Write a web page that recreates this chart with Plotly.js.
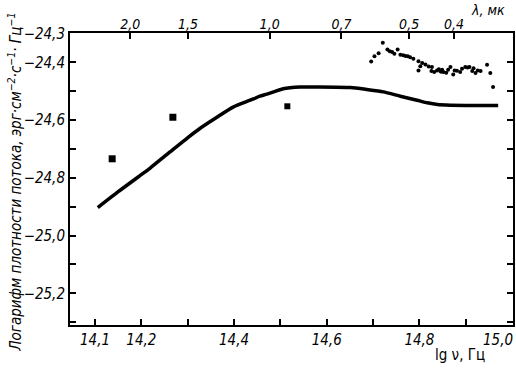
<!DOCTYPE html>
<html>
<head>
<meta charset="utf-8">
<script src="https://cdn.plot.ly/plotly-3.0.1.min.js"></script>
<style>html,body{margin:0;padding:0;background:#fff;}#chart{width:516px;height:368px;}</style>
</head>
<body>
<div id="chart"></div>
<script>
// Model curve (lg nu, log flux)
const curveX = [14.106, 14.150, 14.193, 14.219, 14.262, 14.299, 14.327, 14.363, 14.398, 14.435, 14.456, 14.471, 14.506, 14.543, 14.579, 14.651, 14.687, 14.722, 14.759, 14.795, 14.817, 14.839, 14.867, 14.970];
const curveY = [-24.903, -24.848, -24.797, -24.766, -24.710, -24.662, -24.628, -24.590, -24.555, -24.531, -24.517, -24.510, -24.491, -24.485, -24.485, -24.487, -24.494, -24.502, -24.517, -24.531, -24.540, -24.546, -24.548, -24.549];
// Observed points (dense set)
const dotsX = [14.696, 14.703, 14.712, 14.721, 14.731, 14.736, 14.741, 14.746, 14.753, 14.759, 14.765, 14.770, 14.775, 14.780, 14.787, 14.798, 14.806, 14.798, 14.802, 14.813, 14.820, 14.827, 14.826, 14.832, 14.838, 14.845, 14.849, 14.852, 14.858, 14.862, 14.867, 14.873, 14.876, 14.881, 14.888, 14.892, 14.899, 14.904, 14.908, 14.914, 14.917, 14.921, 14.926, 14.932, 14.946, 14.953, 14.959, 14.842, 14.847];
const dotsY = [-24.397, -24.379, -24.368, -24.332, -24.355, -24.361, -24.364, -24.370, -24.355, -24.373, -24.375, -24.378, -24.379, -24.382, -24.387, -24.396, -24.402, -24.428, -24.413, -24.407, -24.414, -24.416, -24.430, -24.433, -24.428, -24.430, -24.425, -24.433, -24.436, -24.425, -24.416, -24.442, -24.428, -24.429, -24.433, -24.422, -24.416, -24.418, -24.416, -24.430, -24.420, -24.437, -24.428, -24.430, -24.408, -24.437, -24.485, -24.424, -24.432];
// Infrared points
const crossX = [14.137, 14.268];
const crossY = [-24.734, -24.590];
const squareX = [14.515];
const squareY = [-24.552];
// Ticks
const yTickVals = [-24.3, -24.4, -24.5, -24.6, -24.7, -24.8, -24.9, -25.0, -25.1, -25.2, -25.3];
const yTickText = ["−24,3", "−24,4", " ", "−24,6", " ", "−24,8", " ", "−25,0", " ", "−25,2", " "];
const xTickVals = [14.1, 14.2, 14.3, 14.4, 14.5, 14.6, 14.7, 14.8, 14.9, 15.0];
const xTickText = ["14,1", "14,2", " ", "14,4", " ", "14,6", " ", "14,8", " ", " "];
const xLastLabel = "15,0";
const lambdaVals = [2.0, 1.5, 1.0, 0.7, 0.5, 0.4];
const lambdaText = ["2,0", "1,5", "1,0", "0,7", "0,5", "0,4"];

const lambdaPos = lambdaVals.map(l => Math.log10(2.998e14 / l));
const FONT = "Liberation Sans Narrow, DejaVu Sans Condensed, Arial, sans-serif";
const xr = [14.046, 15.002];
const yr = [-25.31, -24.298];

const traces = [
  {x: curveX, y: curveY, mode: 'lines', line: {color: '#000', width: 3.5, shape: 'spline', smoothing: 0.6}, hoverinfo: 'skip'},
  {x: dotsX, y: dotsY, mode: 'markers', marker: {color: '#000', size: 4, symbol: 'circle'}},
  {x: crossX, y: crossY, mode: 'markers', marker: {color: '#000', size: 7, symbol: 'square'}},
  {x: squareX, y: squareY, mode: 'markers', marker: {color: '#000', size: 6, symbol: 'square'}},
  {x: [xr[0]], y: [yr[0]], xaxis: 'x2', mode: 'markers', marker: {opacity: 0}, hoverinfo: 'skip'}
];

const layout = {
  width: 516, height: 368,
  margin: {l: 70, r: 3, t: 33, b: 43},
  paper_bgcolor: '#fff', plot_bgcolor: '#fff',
  showlegend: false,
  font: {family: FONT, size: 14, color: '#000', style: 'italic'},
  xaxis: {
    range: xr, tickmode: 'array', tickvals: xTickVals, ticktext: xTickText,
    ticks: 'inside', ticklen: 6, tickwidth: 2, tickcolor: '#000',
    showline: true, linecolor: '#000', linewidth: 2, mirror: true,
    showgrid: false, zeroline: false,
    tickfont: {family: FONT, size: 15, style: 'italic'}
  },
  xaxis2: {
    range: xr, overlaying: 'x', side: 'top', anchor: 'y',
    tickmode: 'array', tickvals: lambdaPos, ticktext: lambdaText,
    ticks: 'inside', ticklen: 6, tickwidth: 2, tickcolor: '#000',
    showline: false, showgrid: false, zeroline: false,
    tickfont: {family: FONT, size: 14, style: 'italic'}
  },
  yaxis: {
    range: yr, tickmode: 'array', tickvals: yTickVals, ticktext: yTickText,
    ticks: 'inside', ticklen: 6, tickwidth: 2, tickcolor: '#000',
    showline: true, linecolor: '#000', linewidth: 2, mirror: 'ticks',
    showgrid: false, zeroline: false,
    tickfont: {family: FONT, size: 15, style: 'italic'}
  },
  annotations: [
    {xref: 'paper', yref: 'paper', x: -0.125, y: 0.49, xanchor: 'center', yanchor: 'middle',
     textangle: -90, showarrow: false,
     text: 'Логарифм плотности потока, эрг·см<sup>−2</sup>·с<sup>−1</sup>· Гц<sup>−1</sup>',
     font: {family: FONT, size: 15, style: 'italic'}},
    {xref: 'paper', yref: 'paper', x: 0.88, y: -0.103, xanchor: 'center', yanchor: 'middle',
     showarrow: false, text: 'lg ν, Гц',
     font: {family: FONT, size: 15, style: 'normal'}},
    {xref: 'paper', yref: 'paper', x: 1.004, y: -0.051, xanchor: 'right', yanchor: 'middle',
     showarrow: false, text: xLastLabel,
     font: {family: FONT, size: 15, style: 'italic'}},
    {xref: 'paper', yref: 'paper', x: 0.944, y: 1.079, xanchor: 'center', yanchor: 'middle',
     showarrow: false, text: 'λ, мк',
     font: {family: FONT, size: 14, style: 'italic'}}
  ]
};

Plotly.newPlot('chart', traces, layout, {staticPlot: true, displayModeBar: false});
</script>
</body>
</html>
